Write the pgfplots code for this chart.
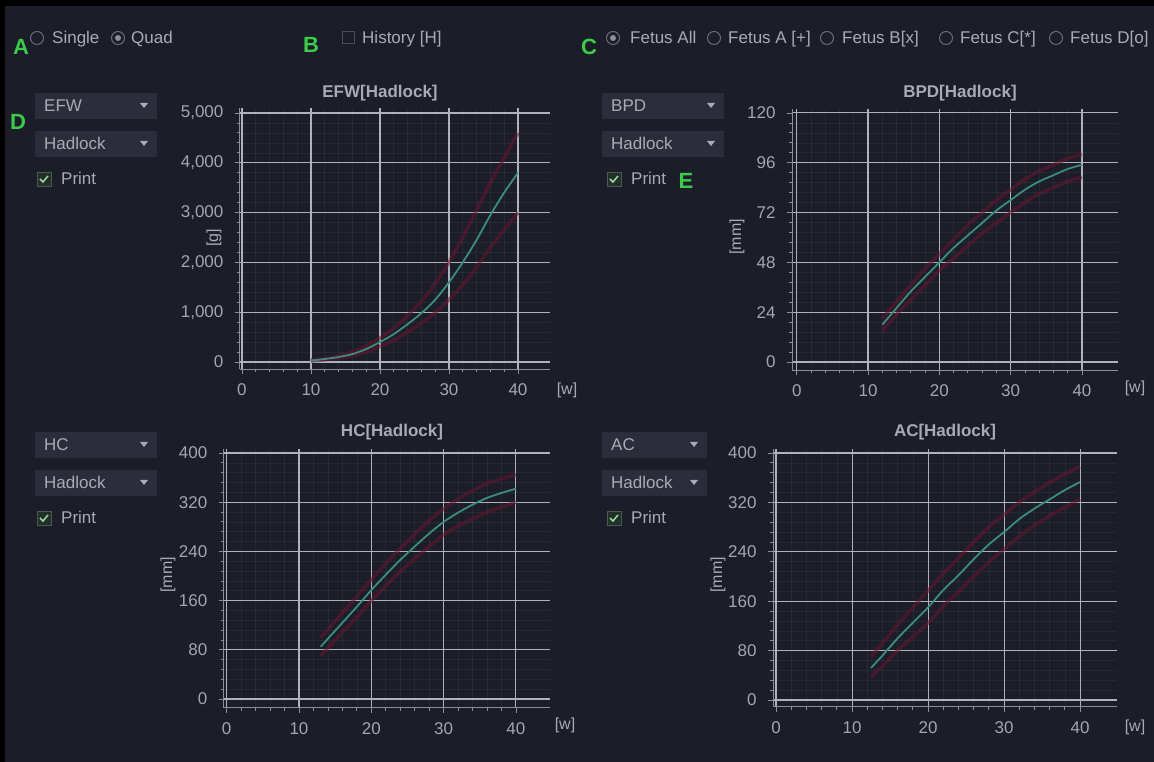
\documentclass[border=0pt]{standalone}
\usepackage{pgfplots}
\pgfplotsset{compat=1.18}
\usepackage{fontspec}
\setmainfont{Liberation Sans}
\definecolor{bg}{HTML}{1B1E29}
\definecolor{boxcol}{HTML}{2B2E3A}
\definecolor{uitext}{HTML}{A9ABB3}
\definecolor{gridcol}{HTML}{B0B2BA}
\definecolor{axiscol}{HTML}{8C8E98}
\definecolor{labcol}{HTML}{A4A6AE}
\definecolor{tealc}{HTML}{3C8C80}
\definecolor{redc}{HTML}{6A1430}
\definecolor{greenc}{HTML}{3CCB4A}
\definecolor{radiocol}{HTML}{6A6C78}
\definecolor{selcol}{HTML}{8A8DA4}
\definecolor{chkborder}{HTML}{4A4C58}
\definecolor{chkfill}{HTML}{22302A}
\definecolor{chkedge}{HTML}{4A5A50}
\definecolor{chkmark}{HTML}{9FD8A0}

\pgfplotsset{
  ui/.style={
    scale only axis, anchor=south west,
    axis x line*=bottom, axis y line*=left,
    axis line style={draw=axiscol, line width=1pt, -},
    grid=both,
    major grid style={draw=gridcol, line width=1.1pt},
    minor grid style={draw=white, opacity=0.05, line width=0.6pt},
    tick align=outside,
    major tick length=5pt, minor tick length=3pt,
    tick style={draw=axiscol, line width=0.8pt},
    ticklabel style={font=\fontsize{17}{19}\selectfont, text=labcol},
    xticklabel style={yshift=-6pt},
    yticklabel style={xshift=-8pt},
    /pgf/number format/assume math mode=true,
    /pgf/number format/1000 sep={,},
    xtick={0,10,20,30,40},
    minor x tick num=4,
    minor y tick num=4,
  },
  redline/.style={draw=redc, line width=3.5pt, opacity=0.55, smooth},
  tealline/.style={draw=tealc, line width=1.8pt, smooth},
}

\newcommand{\radio}[2]{%
  \draw[radiocol, line width=1pt] (#1,#2) circle (6.5);}
\newcommand{\radiosel}[2]{%
  \draw[radiocol, line width=1pt] (#1,#2) circle (6.5);
  \fill[selcol] (#1,#2) circle (3);}
\newcommand{\dropdown}[5]{% x1 y1 x2 y2 text
  \fill[boxcol] (#1,#2) rectangle (#3,#4);
  \node[anchor=base west, text=uitext, font=\fontsize{17}{19}\selectfont, inner sep=0pt] at (#1+9,{(#2+#4)/2+6}) {#5};
  \fill[uitext] (#3-17,{(#2+#4)/2-3}) -- (#3-9,{(#2+#4)/2-3}) -- (#3-13,{(#2+#4)/2+2}) -- cycle;}
\newcommand{\printbox}[2]{% x y center
  \fill[chkfill] (#1-7,#2-7) rectangle (#1+7,#2+7);
  \draw[chkedge, line width=0.8pt] (#1-7,#2-7) rectangle (#1+7,#2+7);
  \draw[chkmark, line width=1.5pt] (#1-4,#2) -- (#1-1,#2+3) -- (#1+4,#2-3);
  \node[anchor=base west, text=uitext, font=\fontsize{17}{19}\selectfont, inner sep=0pt] at (#1+17,#2+6) {Print};}

\begin{document}
\begin{tikzpicture}
\useasboundingbox (0pt,0pt) rectangle (1154pt,762pt);
\fill[black] (0pt,0pt) rectangle (1154pt,762pt);
\fill[bg] (5pt,0pt) rectangle (1154pt,756pt);

% ---------- EFW ----------
\begin{axis}[ui, at={(239.9pt,392.5pt)}, width=309.8pt, height=261.5pt,
  xmin=-0.3, xmax=44.6, ymin=-150, ymax=5100, ytick={0,1000,...,5000}]
\addplot[redline] coordinates {(10,40)(12,75)(14,125)(16,200)(18,320)(20,480)(22,680)(24,930)(26,1220)(28,1580)(30,2000)(32,2500)(34,3050)(36,3600)(38,4100)(40,4600)};
\addplot[redline] coordinates {(10,20)(12,45)(14,80)(16,125)(18,200)(20,310)(22,440)(24,600)(26,780)(28,990)(30,1250)(32,1550)(34,1900)(36,2300)(38,2650)(40,3000)};
\addplot[tealline] coordinates {(10,30)(12,60)(14,100)(16,160)(18,260)(20,400)(22,560)(24,760)(26,980)(28,1250)(30,1600)(32,2000)(34,2450)(36,2950)(38,3400)(40,3800)};
\end{axis}

% ---------- BPD ----------
\begin{axis}[ui, at={(792.1pt,391.7pt)}, width=325.5pt, height=261.5pt,
  xmin=-0.65, xmax=45, ymin=-4, ymax=122, ytick={0,24,...,120}]
\addplot[redline] coordinates {(12,21)(14,29)(16,37)(18,45)(20,52)(22,59)(24,66)(26,72)(28,78)(30,83)(32,88)(34,92)(36,95)(38,98)(40,100)};
\addplot[redline] coordinates {(12,15)(14,23)(16,30)(18,37)(20,44)(22,50)(24,56)(26,62)(28,67)(30,72)(32,77)(34,81)(36,84)(38,87)(40,89)};
\addplot[tealline] coordinates {(12,18)(14,26)(16,34)(18,41)(20,48)(22,55)(24,61)(26,67)(28,73)(30,78)(32,83)(34,87)(36,90)(38,93)(40,95)};
\end{axis}

% ---------- HC ----------
\begin{axis}[ui, at={(223.8pt,54.4pt)}, width=326.1pt, height=258.3pt,
  xmin=-0.4, xmax=44.7, ymin=-14, ymax=406, ytick={0,80,...,400}]
\addplot[redline] coordinates {(13,100)(14,113)(16,140)(18,167)(20,194)(22,220)(24,245)(26,268)(28,290)(30,309)(32,325)(34,339)(36,350)(38,358)(40,365)};
\addplot[redline] coordinates {(13,70)(14,83)(16,108)(18,133)(20,160)(22,184)(24,207)(26,228)(28,248)(30,267)(32,281)(34,293)(36,304)(38,312)(40,320)};
\addplot[tealline] coordinates {(13,85)(14,98)(16,124)(18,150)(20,177)(22,202)(24,226)(26,248)(28,269)(30,288)(32,303)(34,316)(36,327)(38,335)(40,342)};
\end{axis}

% ---------- AC ----------
\begin{axis}[ui, at={(773pt,55.2pt)}, width=344.3pt, height=257.5pt,
  xmin=-0.4, xmax=44.9, ymin=-11, ymax=406, ytick={0,80,...,400}]
\addplot[redline] coordinates {(12.5,70)(14,92)(16,122)(18,150)(20,177)(22,205)(24,230)(26,256)(28,280)(30,300)(32,320)(34,337)(36,352)(38,366)(40,378)};
\addplot[redline] coordinates {(12.5,38)(14,55)(16,80)(18,102)(20,125)(22,152)(24,175)(26,200)(28,223)(30,244)(32,265)(34,283)(36,298)(38,312)(40,325)};
\addplot[tealline] coordinates {(12.5,52)(14,72)(16,100)(18,125)(20,150)(22,178)(24,202)(26,228)(28,252)(30,272)(32,293)(34,310)(36,325)(38,340)(40,353)};
\end{axis}

% ---------- UI overlay (pixel coordinates, y downward) ----------
\begin{scope}[x=1pt, y=1pt, shift={(0pt,762pt)}, yscale=-1]
  \tikzset{lab/.style={text=uitext, font=\fontsize{17}{19}\selectfont, inner sep=0pt, anchor=base west},
           ylab/.style={text=uitext, font=\fontsize{16}{18}\selectfont, inner sep=0pt},
           ttl/.style={text=uitext, font=\bfseries\fontsize{17}{19}\selectfont, inner sep=0pt},
           grn/.style={text=greenc, font=\bfseries\fontsize{22}{24}\selectfont, inner sep=0pt}}
  % top row
  \radio{37}{38}
  \node[lab] at (52,44) {Single};
  \radiosel{118}{38}
  \node[lab] at (131,44) {Quad};
  \draw[chkborder, line width=1pt] (342,32) rectangle (354,44);
  \node[lab] at (362,44) {History [H]};
  \radiosel{613}{38}
  \node[lab] at (630,44) {Fetus All};
  \radio{714}{38}
  \node[lab] at (728,44) {Fetus A [+]};
  \radio{827}{38}
  \node[lab] at (842,44) {Fetus B[x]};
  \radio{946}{38}
  \node[lab] at (960,44) {Fetus C[*]};
  \radio{1056}{38}
  \node[lab] at (1070,44) {Fetus D[o]};
  \node[grn] at (21,47) {A};
  \node[grn] at (311,45) {B};
  \node[grn] at (589,47) {C};
  \node[grn] at (18,122) {D};
  \node[grn] at (686,181) {E};
  % left widgets
  \dropdown{35}{93}{157}{119}{EFW}
  \dropdown{35}{131}{157}{157}{Hadlock}
  \printbox{44}{179}
  \dropdown{602}{93}{724}{119}{BPD}
  \dropdown{602}{131}{724}{157}{Hadlock}
  \printbox{614}{179}
  \dropdown{35}{432}{157}{458}{HC}
  \dropdown{35}{470}{157}{496}{Hadlock}
  \printbox{44}{518}
  \dropdown{602}{432}{707}{458}{AC}
  \dropdown{602}{470}{707}{496}{Hadlock}
  \printbox{614}{518}
  % titles
  \node[ttl] at (380,93) {EFW[Hadlock]};
  \node[ttl] at (960,93) {BPD[Hadlock]};
  \node[ttl] at (392,432) {HC[Hadlock]};
  \node[ttl] at (945,432) {AC[Hadlock]};
  % axis labels
  \node[ylab, rotate=90] at (214,238) {[g]};
  \node[ylab, rotate=90] at (737,237) {[mm]};
  \node[ylab, rotate=90] at (168,575) {[mm]};
  \node[ylab, rotate=90] at (718,575) {[mm]};
  \node[ylab] at (567,390) {[w]};
  \node[ylab] at (1135,388) {[w]};
  \node[ylab] at (565,725) {[w]};
  \node[ylab] at (1135,727) {[w]};
\end{scope}
\end{tikzpicture}
\end{document}
